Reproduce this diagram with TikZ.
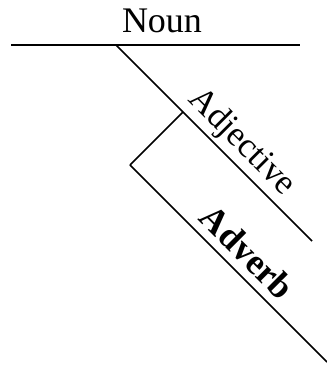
\documentclass[tikz,border=0pt]{standalone}
\usepackage{fontspec}
\setmainfont{Liberation Serif}
\usepackage{tikz}
\usetikzlibrary{positioning,calc}

\begin{document}
\begin{tikzpicture}[
  x=1pt,y=1pt,
  rule/.style={line width=1.7pt,black},
  word/.style={font=\fontsize{36}{40}\selectfont,inner sep=3pt}
]
\useasboundingbox (0,0) rectangle (327,373);
% base line of the subject
\coordinate (b0) at (11,328);
\coordinate (b1) at (300,328);
\coordinate (nj) at (116,328);
\draw[rule] (b0) -- (b1);
\node[word,anchor=base] (noun) at (162,340) {Noun};
% modifier slants
\coordinate (a1) at (312,132);
\coordinate (aj) at (183,261);
\coordinate (v0) at (130,208);
\coordinate (v1) at (327,11);
\draw[rule] (nj) -- node[word,font=\fontsize{35}{40}\selectfont,pos=0.57,sloped,above] (adj) {Adjective} (a1);
\draw[rule] (aj) -- (v0);
\draw[rule] (v0) -- node[word,pos=0.52,sloped,above,yshift=5pt] (adv) {\textbf{Adverb}} (v1);
\end{tikzpicture}
\end{document}
